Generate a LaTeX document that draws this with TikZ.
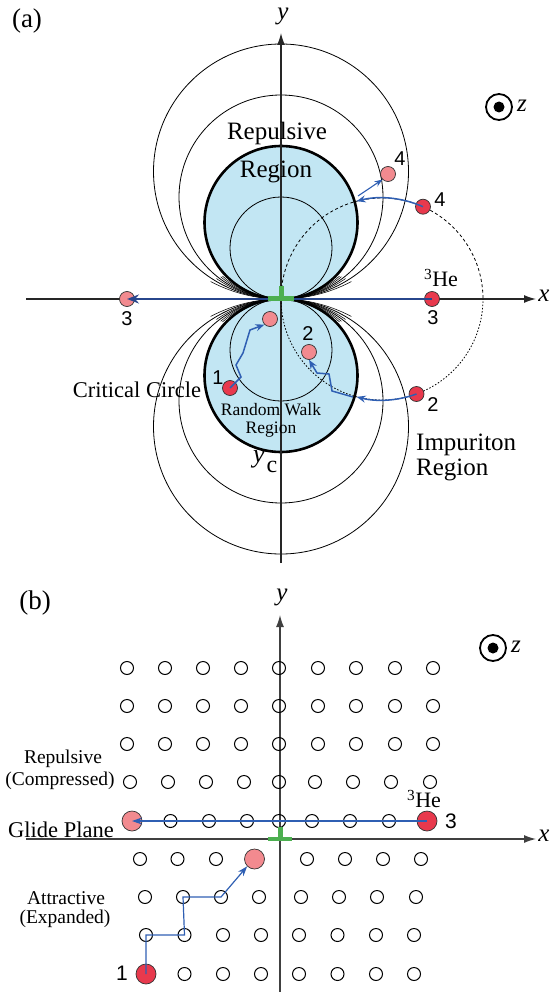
\documentclass[tikz,border=0pt]{standalone}
\usepackage{fontspec}
\setmainfont{Liberation Serif}
\newfontfamily\sfnum{Liberation Sans}
\usetikzlibrary{arrows.meta}
\definecolor{lblue}{HTML}{C2E6F3}
\definecolor{dred}{HTML}{E8394D}
\definecolor{lpink}{HTML}{F28A8F}
\definecolor{arrblue}{HTML}{2F5FB3}
\definecolor{darkblue}{HTML}{27468C}
\definecolor{dgreen}{HTML}{4CAF50}
\newcommand{\myfs}[1]{\fontsize{#1}{#1}\selectfont}
\begin{document}
\begin{tikzpicture}[x=1pt,y=-1pt,
  axisline/.style={line width=1.3pt, draw=black!85, -{Latex[length=12pt,width=8pt]}},
  thincirc/.style={line width=0.8pt},
  fanarc/.style={line width=0.55pt},
  crit/.style={line width=2.6pt, fill=lblue},
  rdot/.style={circle, draw=black!80, line width=0.7pt, fill=dred, minimum size=15pt, inner sep=0pt},
  pdot/.style={circle, draw=black!80, line width=0.7pt, fill=lpink, minimum size=15pt, inner sep=0pt},
  bigr/.style={circle, draw=black!80, line width=0.7pt, fill=dred, minimum size=20pt, inner sep=0pt},
  bigp/.style={circle, draw=black!80, line width=0.7pt, fill=lpink, minimum size=20pt, inner sep=0pt},
  lat/.style={circle, draw, line width=1pt, minimum size=13pt, inner sep=0pt},
  num/.style={font=\sfnum\myfs{20}},
  walk/.style={draw=arrblue, line width=1.5pt, -{Stealth[length=9pt,width=7pt]}},
  thinwalk/.style={draw=arrblue, line width=1.1pt, -{Stealth[length=8pt,width=6pt]}},
  glide/.style={draw=darkblue, line width=2pt, -{Stealth[length=12pt,width=9pt]}},
  bwalk/.style={draw=arrblue, line width=1.2pt, -{Stealth[length=10pt,width=7pt]}},
  disl/.style={draw=dgreen, line width=4.5pt},
]
\useasboundingbox (0,0) rectangle (549,992);

%================ panel (a) =================
\foreach \r in {102,127.5} {
  \draw[thincirc] (281,{299-\r}) circle[radius=\r];
  \draw[thincirc] (281,{299+\r}) circle[radius=\r];
}
\begin{scope}
  \clip (281,299) ellipse[x radius=84, y radius=32];
  \foreach \r in {86,93,112,150} {
    \draw[fanarc] (281,{299-\r}) circle[radius=\r];
    \draw[fanarc] (281,{299+\r}) circle[radius=\r];
  }
\end{scope}
\draw[crit] (281,222.5) circle[radius=76.5];
\draw[crit] (281,375.5) circle[radius=76.5];
\draw[thincirc] (281,248) circle[radius=51];
\draw[thincirc] (281,350) circle[radius=51];

% axes
\coordinate (ayb) at (281,563);
\coordinate (ayt) at (281,33);
\coordinate (axl) at (26,299);
\coordinate (axr) at (536,299);
\draw[axisline] (ayb) -- (ayt);
\draw[axisline] (axl) -- (axr);

% dashed circle of the glide trajectory
\coordinate (dc0) at (281,299);
\draw[line width=0.8pt, dash pattern=on 3pt off 2.5pt] (dc0) arc[start angle=180, end angle=360, radius=101];
\draw[line width=0.8pt, dash pattern=on 1.5pt off 1.8pt] (dc0) arc[start angle=180, end angle=0, radius=101];

% dots
\node[rdot] (r1) at (230,388) {};
\node[pdot] (p1) at (270,319) {};
\node[pdot] (p2) at (309,352) {};
\node[rdot] (r2) at (416.5,394) {};
\node[rdot] (r3) at (432,299) {};
\node[pdot] (p3) at (127,299) {};
\node[rdot] (r4) at (423,206.7) {};
\node[pdot] (p4) at (388,174) {};

% arrows
\draw[glide] (r3.center) -- (p3.center);
\draw[walk] (r4.center) arc[start angle=-66, end angle=-104.5, radius=101] coordinate (e4);
\coordinate (s4) at (358,196);
\draw[thinwalk] (s4) -- (p4.south west);
\draw[walk] (r2.center) arc[start angle=70, end angle=104.5, radius=101] coordinate (e2);
\coordinate (w2a) at (353,397);
\draw[walk] (w2a) -- (332,391) -- (329,374) -- (317,373) -- (p2.south);
\draw[walk] (r1.center) -- (241,377) -- (236,365) -- (243,353) -- (250,330) -- (p1.south west);

% dislocation
\coordinate (da) at (268,298.5);
\coordinate (db) at (294,298.5);
\coordinate (dc) at (281,297);
\coordinate (dd) at (281,286);
\draw[disl] (da) -- (db);
\draw[draw=dgreen, line width=5pt] (dc) -- (dd);

% z symbol
\node[circle, draw, line width=1.8pt, minimum size=26pt, inner sep=0pt] (zo) at (499,107) {};
\node[circle, fill, minimum size=11pt, inner sep=0pt] (zi) at (499,107) {};
\node[font=\itshape\myfs{25}] (zl) at (522,106) {z};

% texts
\node[font=\myfs{27}] (la) at (27,21) {(a)};
\node[font=\itshape\myfs{25}] (ya) at (283,16) {y};
\node[font=\itshape\myfs{25}] (xa) at (544,296) {x};
\node[font=\myfs{25}] (rep) at (277,133) {Repulsive};
\node[font=\myfs{25}] (reg) at (276,172) {Region};
\node[font=\myfs{22.5}] (crc) at (137,390) {Critical Circle};
\node[font=\myfs{17.5}, inner sep=0pt, anchor=base] (rw) at (271,415.5) {Random Walk};
\node[font=\myfs{17.5}, inner sep=0pt, anchor=base] (rwr) at (271,433) {Region};
\node[font=\itshape\myfs{26}] (yc) at (259,459) {y};
\node[font=\myfs{24}] (ycc) at (272,467) {c};
\node[font=\myfs{25}, anchor=west, inner sep=0pt] (imp) at (416,445) {Impuriton};
\node[font=\myfs{25}, anchor=west, inner sep=0pt] (impr) at (416,470) {Region};
\node[font=\myfs{22}] (hea) at (441,278) {\textsuperscript{3}He};
\node[num] (n4p) at (400,159) {4};
\node[num] (n4r) at (440,200) {4};
\node[num] (n3r) at (433,318) {3};
\node[num] (n3p) at (127,319) {3};
\node[num] (n2p) at (308,334) {2};
\node[num] (n2r) at (433,405) {2};
\node[num] (n1) at (218,378) {1};

%================ panel (b) =================
\coordinate (byb) at (280,992);
\coordinate (byt) at (280,615);
\coordinate (bxl) at (26,839);
\coordinate (bxr) at (536,839);
\draw[axisline, draw=black!75] (byb) -- (byt);
\draw[axisline, draw=black!75] (bxl) -- (bxr);

\foreach \yy [count=\j] in {668,706,744} {
  \foreach \xx [count=\i] in {127,165,203,241,279,318,356,395,433}
    \node[lat] (L\j-\i) at (\xx,\yy) {};
}
\foreach \xx [count=\i] in {130,168,206,244,279,315,353,391,430}
  \node[lat] (L4-\i) at (\xx,782) {};
\foreach \xx [count=\i] in {170.5,209,247,279,312,350,389}
  \node[lat] (L5-\i) at (\xx,821) {};
\foreach \xx [count=\i] in {140,177.5,216,307,345,383,421}
  \node[lat] (L6-\i) at (\xx,859) {};
\foreach \xx [count=\i] in {145,183,221,259,301,339,377,416}
  \node[lat] (L7-\i) at (\xx,897) {};
\foreach \xx [count=\i] in {146,184.5,223,261,299,337.5,376,414}
  \node[lat] (L8-\i) at (\xx,935) {};
\foreach \xx [count=\i] in {184.5,223,261,299,337.5,376,414}
  \node[lat] (L9-\i) at (\xx,974) {};

\node[bigp] (bp3) at (132,821) {};
\node[bigr] (br3) at (427,821) {};
\node[bigp] (bp1) at (254.5,859) {};
\node[bigr] (br1) at (146,974) {};

\draw[bwalk] (br3.center) -- (bp3.center);
\draw[bwalk] (br1.center) -- (L8-1.center) -- (L8-2.center) -- (L7-2.center) -- (L7-3.center) -- (bp1.south west);

\coordinate (bda) at (268,839);
\coordinate (bdb) at (292,839);
\coordinate (bdc) at (280,838);
\coordinate (bdd) at (280,827);
\draw[disl] (bda) -- (bdb);
\draw[draw=dgreen, line width=5pt] (bdc) -- (bdd);

\node[circle, draw, line width=1.8pt, minimum size=26pt, inner sep=0pt] (bzo) at (493,648) {};
\node[circle, fill, minimum size=11pt, inner sep=0pt] (bzi) at (493,648) {};
\node[font=\itshape\myfs{25}] (bzl) at (516,647) {z};

\node[font=\myfs{27}] (lb) at (35,603) {(b)};
\node[font=\itshape\myfs{25}] (yb) at (282,597) {y};
\node[font=\itshape\myfs{25}] (xb) at (544,836) {x};
\node[font=\myfs{19.5}] (brep) at (63,759) {Repulsive};
\node[font=\myfs{19.5}] (bcomp) at (60,781) {(Compressed)};
\node[font=\myfs{22.5}] (bgl) at (61,830) {Glide Plane};
\node[font=\myfs{19.5}] (batt) at (66,898) {Attractive};
\node[font=\myfs{19.5}] (bexp) at (65,919) {(Expanded)};
\node[font=\myfs{22}] (bhe) at (424,799) {\textsuperscript{3}He};
\node[num, font=\sfnum\myfs{21}] (bn3) at (451,821) {3};
\node[num, font=\sfnum\myfs{21}] (bn1) at (122,973) {1};
\end{tikzpicture}
\end{document}
